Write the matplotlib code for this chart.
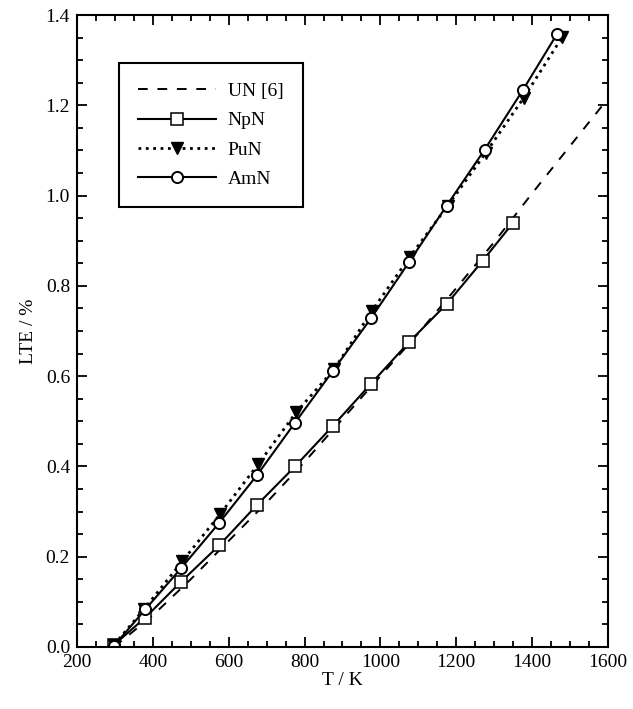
import matplotlib
matplotlib.use("Agg")
import matplotlib.pyplot as plt
from matplotlib.ticker import MultipleLocator

plt.rcParams['font.family'] = ['Liberation Serif', 'DejaVu Serif']

# UN [6] reference curve
t_un = [298, 400, 500, 600, 700, 800, 900, 1000, 1100, 1200, 1300, 1400, 1500, 1600]
lte_un = [0.0, 0.07, 0.15, 0.235, 0.32, 0.41, 0.505, 0.60, 0.695, 0.795, 0.897, 1.005, 1.11, 1.215]

t_np = [298, 380, 475, 575, 675, 775, 875, 975, 1075, 1175, 1270, 1350]
lte_np = [0.005, 0.065, 0.145, 0.225, 0.315, 0.40, 0.49, 0.583, 0.675, 0.76, 0.856, 0.94]

t_pu = [298, 378, 478, 578, 678, 778, 878, 978, 1078, 1178, 1278, 1378, 1480]
lte_pu = [0.005, 0.085, 0.19, 0.295, 0.405, 0.52, 0.615, 0.745, 0.865, 0.978, 1.095, 1.217, 1.352]

t_am = [298, 380, 475, 575, 675, 775, 875, 975, 1075, 1175, 1275, 1375, 1465]
lte_am = [0.003, 0.083, 0.175, 0.275, 0.381, 0.497, 0.612, 0.728, 0.852, 0.978, 1.102, 1.233, 1.357]

fig = plt.figure(figsize=(6.33, 7.09), dpi=100)
ax = fig.add_axes([0.1216, 0.0875, 0.8389, 0.8913])

ax.plot(t_un, lte_un, 'k--', lw=1.4, dashes=(5, 5), label='UN [6]')
ax.plot(t_np, lte_np, 'k-', lw=1.5, marker='s', ms=8, mfc='white', mec='k', mew=1.1, label='NpN')
ax.plot(t_pu, lte_pu, 'k:', lw=2.0, marker='v', ms=8, mfc='k', mec='k', label='PuN')
ax.plot(t_am, lte_am, 'k-', lw=1.5, marker='o', ms=8, mfc='white', mec='k', mew=1.4, label='AmN')

ax.set_xlim(200, 1600)
ax.set_ylim(0, 1.4)
ax.xaxis.set_major_locator(MultipleLocator(200))
ax.xaxis.set_minor_locator(MultipleLocator(50))
ax.yaxis.set_major_locator(MultipleLocator(0.2))
ax.yaxis.set_minor_locator(MultipleLocator(0.05))
ax.yaxis.set_major_formatter(plt.FormatStrFormatter('%.1f'))
ax.tick_params(which='both', direction='in', top=True, right=True, width=1.3, labelsize=14, colors='k')
ax.tick_params(which='major', length=7, pad=5)
ax.tick_params(which='minor', length=4)
for s in ax.spines.values():
    s.set_linewidth(1.5)

ax.set_xlabel('T / K', fontsize=14, labelpad=1)
ax.set_ylabel('LTE / %', fontsize=14, labelpad=6)

leg = ax.legend(loc='upper left', bbox_to_anchor=(0.079, 0.924), fontsize=14,
                handlelength=4.0, handletextpad=0.6, fancybox=False, framealpha=1,
                edgecolor='k', borderpad=1.0, labelspacing=0.6, borderaxespad=0)
leg.get_frame().set_linewidth(1.5)

fig.savefig('out.png', dpi=100)
